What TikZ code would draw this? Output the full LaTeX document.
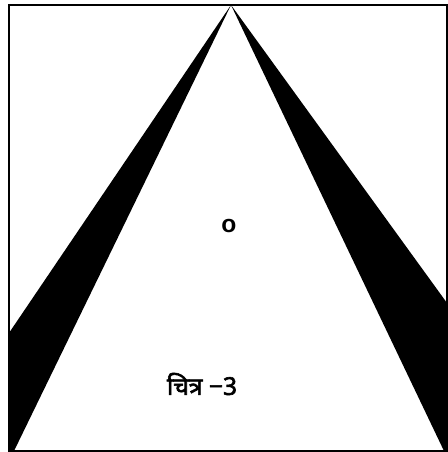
\documentclass[tikz,border=0pt]{standalone}
\usepackage{fontspec}
\newfontfamily\devafont[Script=Devanagari,FakeBold=2.5]{Noto Sans}
\setsansfont{Liberation Sans}
\usetikzlibrary{positioning}
\tikzset{
  frameline/.style={draw=black,line width=1.1pt},
  wedgefill/.style={fill=black,draw=none},
  markfont/.style={font=\fontsize{14}{16}\selectfont\sffamily\bfseries},
  captionfont/.style={font=\fontsize{14}{16}\selectfont\devafont},
}
\begin{document}
\begin{tikzpicture}[x=0.02cm,y=-0.02cm]
  \useasboundingbox (0,0) rectangle (448,452);
  % Frame corners and apex
  \coordinate (tl) at (9,5);
  \coordinate (br) at (447,451);
  \coordinate (apex) at (231,5);
  % Wedge end points
  \coordinate (lout) at (9,333);
  \coordinate (lin) at (14,451);
  \coordinate (rout) at (447,303);
  \coordinate (rin) at (444,451);
  % Black wedges
  \fill[wedgefill] (apex) -- (lout) -- (9,451) -- (lin) -- cycle;
  \fill[wedgefill] (apex) -- (rout) -- (447,451) -- (rin) -- cycle;
  % Frame
  \draw[frameline] (tl) rectangle (br);
  % Labels
  \node[markfont] (centre) at (229,226) {o};
  \node[captionfont] (caption) at (202,384) {चित्र −3};
\end{tikzpicture}
\end{document}
